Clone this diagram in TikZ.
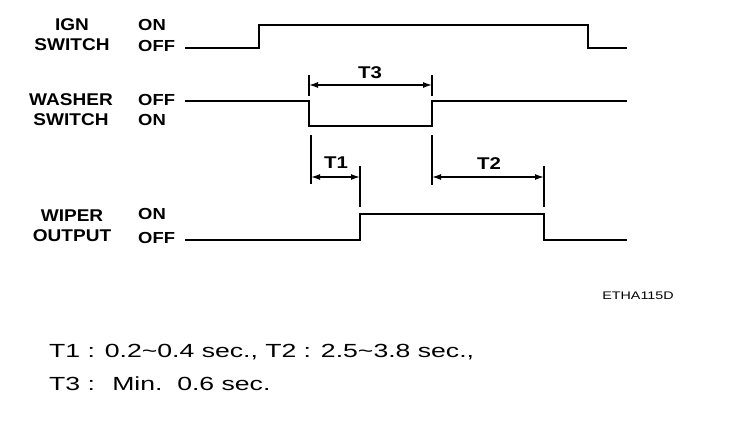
\documentclass[tikz,border=0pt]{standalone}
\usepackage{fontspec}
\setmainfont{Liberation Sans}
\usetikzlibrary{arrows.meta}

% horizontally stretched text
\newcommand{\wide}[2]{\scalebox{#1}[1]{#2}}

\begin{document}
\begin{tikzpicture}[x=1pt, y=-1pt,
  every node/.style={inner sep=0pt},
  sig/.style={line width=2pt},
  tick/.style={line width=1.6pt},
  dim/.style={line width=1.4pt, {Latex[length=9pt,width=6pt]}-{Latex[length=9pt,width=6pt]}},
  hdr/.style={font=\bfseries\fontsize{17}{20}\selectfont, align=center},
  lvl/.style={font=\bfseries\fontsize{16}{20}\selectfont, anchor=west},
  tlab/.style={font=\bfseries\fontsize{17}{18}\selectfont},
  note/.style={font=\fontsize{19}{24}\selectfont, anchor=west},
]
  \useasboundingbox (0,0) rectangle (736,434);

  % Signal names
  \node[hdr] (ign) at (72,35)  {\wide{1.12}{IGN}\\\wide{1.12}{SWITCH}};
  \node[hdr] (wsh) at (71,110) {\wide{1.12}{WASHER}\\\wide{1.12}{SWITCH}};
  \node[hdr] (wip) at (72,226) {\wide{1.12}{WIPER}\\\wide{1.12}{OUTPUT}};

  % Levels
  \node[lvl] (ignon)  at (138,25)  {\wide{1.15}{ON}};
  \node[lvl] (ignoff) at (138,46)  {\wide{1.15}{OFF}};
  \node[lvl] (wshoff) at (138,100) {\wide{1.15}{OFF}};
  \node[lvl] (wshon)  at (138,120) {\wide{1.15}{ON}};
  \node[lvl] (wipon)  at (138,214) {\wide{1.15}{ON}};
  \node[lvl] (wipoff) at (138,238) {\wide{1.15}{OFF}};

  % Edges of the signals
  \coordinate (ignup)  at (259,25);
  \coordinate (igndn)  at (588,25);
  \coordinate (wshdn)  at (309,101);
  \coordinate (wshup)  at (432,101);
  \coordinate (wipup)  at (360,214);
  \coordinate (wipdn)  at (544,214);

  % Waveforms
  \draw[sig] (185,48) -| (ignup) -- (igndn) |- (627,48);
  \draw[sig] (185,101) -- (wshdn) |- (wshup |- 0,126) -- (wshup) -- (627,101);
  \draw[sig] (185,240) -| (wipup) -- (wipdn) |- (627,240);

  % T3
  \draw[tick] (wshdn |- 0,75) coordinate (t3a) -- (wshdn |- 0,96);
  \draw[tick] (wshup |- 0,75) coordinate (t3b) -- (wshup |- 0,96);
  \draw[dim] (t3a |- 0,85) -- (t3b |- 0,85);
  \node[tlab] (t3) at (370,73) {\wide{1.2}{T3}};

  % T1 and T2
  \draw[tick] (311,135) coordinate (t1a) -- (311,184);
  \draw[tick] (wipup |- 0,166) coordinate (t1b) -- (wipup |- 0,207);
  \draw[tick] (wshup |- 0,135) coordinate (t2a) -- (wshup |- 0,185);
  \draw[tick] (wipdn |- 0,166) coordinate (t2b) -- (wipdn |- 0,207);
  \draw[dim] (t1a |- 0,177) -- (t1b |- 0,177);
  \draw[dim] (t2a |- 0,177) -- (t2b |- 0,177);
  \node[tlab] (t1) at (336,163) {\wide{1.2}{T1}};
  \node[tlab] (t2) at (489,164) {\wide{1.2}{T2}};

  % Figure code and notes
  \node[font=\fontsize{11}{12}\selectfont] (code) at (638,296) {\wide{1.3}{ETHA115D}};
  \node[note] (note1) at (49,352)
    {\wide{1.4}{T1 : 0.2\textasciitilde0.4 sec., T2 : 2.5\textasciitilde3.8 sec.,}};
  \node[note] (note2) at (49,384) {\wide{1.4}{T3 : \ Min.\ \ 0.6 sec.}};
\end{tikzpicture}
\end{document}
